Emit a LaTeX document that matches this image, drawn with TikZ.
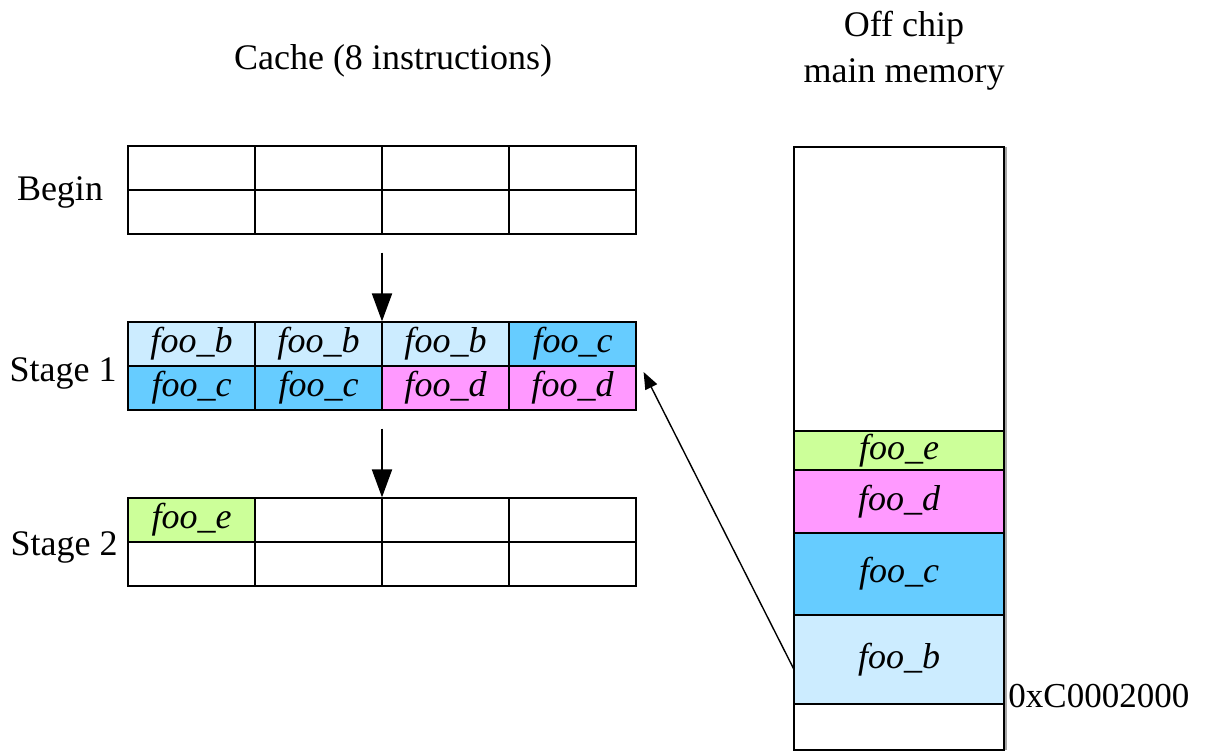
\documentclass[tikz,border=0pt]{standalone}
\usepackage{fontspec}
\setmainfont{Liberation Serif}
\usepackage{tikz}
\usetikzlibrary{matrix,positioning,arrows.meta}

\definecolor{fooB}{HTML}{CCECFF}
\definecolor{fooC}{HTML}{66CCFF}
\definecolor{fooD}{HTML}{FF99FF}
\definecolor{fooE}{HTML}{CCFF99}

\tikzset{
  cache/.style={matrix of nodes, nodes in empty cells, ampersand replacement=\&,
    inner sep=0pt, outer sep=0pt, column sep=-0.6pt, row sep=-0.6pt,
    nodes={draw, line width=0.6pt, minimum width=63.5pt, minimum height=22pt,
      inner sep=0pt, outer sep=0pt, anchor=center,
      font=\fontsize{18}{20}\selectfont\itshape}},
  memcell/.style={draw, line width=0.6pt, minimum width=105pt, inner sep=0pt,
    outer sep=0pt, font=\fontsize{18}{20}\selectfont\itshape},
  lbl/.style={font=\fontsize{18}{23}\selectfont, align=center},
  stagearrow/.style={-{Triangle[length=14pt,width=10pt]}, line width=1pt},
  fetcharrow/.style={-{Triangle[length=8.5pt,width=6.5pt]}, line width=0.7pt},
}

\begin{document}
\begin{tikzpicture}[x=0.5pt, y=0.5pt]
    \useasboundingbox (0,0) rectangle (1206,751);

    % Titles
    \node[lbl] (cachetitle) at (393,690) {Cache (8 instructions)};
    \node[lbl] (memtitle) at (904,700) {Off chip\\main memory};

    % Cache contents at each stage
    \matrix (beg) [cache] at (382,561) {
    {} \& {} \& {} \& {} \\
    {} \& {} \& {} \& {} \\
    };
    \matrix (st1) [cache] at (382,385) {
    |[fill=fooB]| foo\_b \& |[fill=fooB]| foo\_b \& |[fill=fooB]| foo\_b \& |[fill=fooC]| foo\_c \\
    |[fill=fooC]| foo\_c \& |[fill=fooC]| foo\_c \& |[fill=fooD]| foo\_d \& |[fill=fooD]| foo\_d \\
    };
    \matrix (st2) [cache] at (382,209) {
    |[fill=fooE]| foo\_e \& {} \& {} \& {} \\
    {} \& {} \& {} \& {} \\
    };

    % Row labels
    \node[lbl] (lbeg) at (60,559) {Begin};
    \node[lbl] (lst1) at (63,378) {Stage 1};
    \node[lbl] (lst2) at (64,204) {Stage 2};

    % Main memory stack
    \node[memcell, minimum height=142pt, anchor=north] (mtop) at (899,604) {};
    \node[memcell, fill=fooE, minimum height=19.5pt, below=0pt of mtop] (fe) {foo\_e};
    \node[memcell, fill=fooD, minimum height=31.5pt, below=0pt of fe] (fd) {foo\_d};
    \node[memcell, fill=fooC, minimum height=41pt, below=0pt of fd] (fc) {foo\_c};
    \node[memcell, fill=fooB, minimum height=44.5pt, below=0pt of fc] (fb) {foo\_b};
    \node[memcell, minimum height=23pt, below=0pt of fb] (mbot) {};
    \draw[gray!70, line width=1.2pt] ([xshift=0.9pt]mtop.north east) -- ([xshift=0.9pt]mbot.south east);
    \node[font=\fontsize{17.5}{20}\selectfont, anchor=west, inner sep=0pt] (addr) at (1008,55) {0xC0002000};

    % Arrows
    \draw[stagearrow] ([yshift=-9pt]beg.south) -- (st1.north);
    \draw[stagearrow] ([yshift=-9pt]st1.south) -- (st2.north);
    \draw[fetcharrow] ([yshift=-5pt]fb.west) -- ([xshift=3.5pt,yshift=-3pt]st1.east);
\end{tikzpicture}
\end{document}
